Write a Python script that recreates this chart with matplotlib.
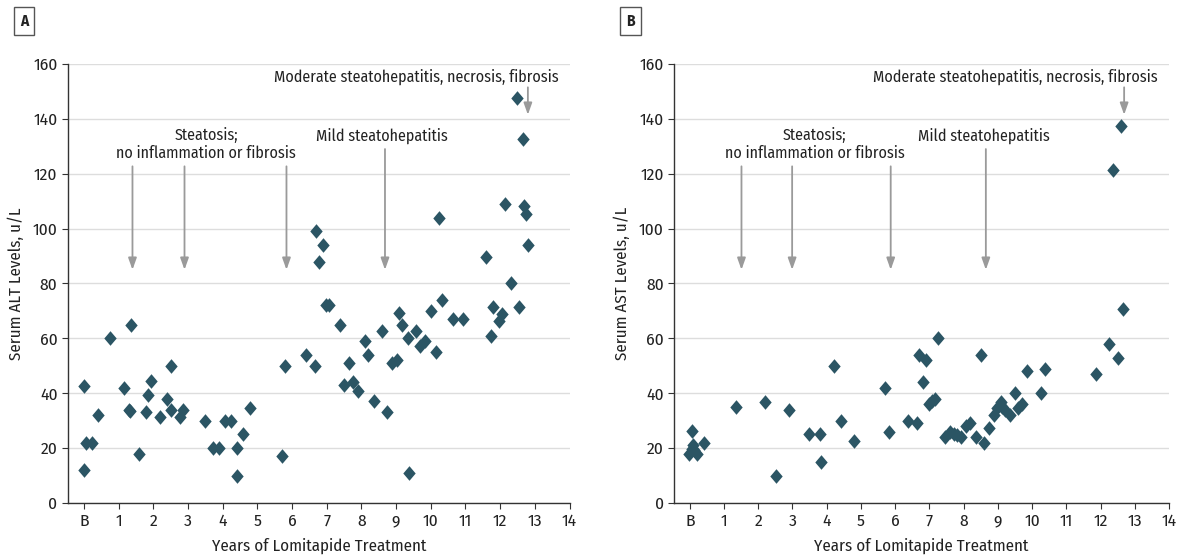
import matplotlib.pyplot as plt
from matplotlib import font_manager

# condensed sans, first one installed
names = {f.name for f in font_manager.fontManager.ttflist}
wanted = ['Fira Sans Condensed', 'Roboto Condensed', 'PT Sans Narrow', 'Archivo Narrow',
          'Asap Condensed', 'Barlow Condensed', 'DejaVu Sans']
fam = [n for n in wanted if n in names][0]
plt.rcParams['font.family'] = [fam, 'DejaVu Sans']

# Panel A: serum ALT
alt_years = [0.0, 0.0, 0.05, 0.24, 0.41, 0.75, 1.17, 1.35, 1.31, 1.34, 1.58, 1.78, 1.84, 1.93,
             2.18, 2.4, 2.5, 2.52, 2.78, 2.87, 3.5, 3.72, 3.9, 4.07, 4.23, 4.41, 4.41, 4.58,
             4.8, 5.72, 5.79, 6.4, 6.67, 6.68, 6.78, 6.9, 6.97, 7.08, 7.38, 7.51, 7.64, 7.76,
             7.9, 8.1, 8.18, 8.36, 8.58, 8.73, 8.89, 9.04, 9.07, 9.18, 9.33, 9.36, 9.57, 9.7,
             9.83, 10.0, 10.14, 10.23, 10.32, 10.64, 10.94, 11.58, 11.74, 11.8, 11.96, 12.05,
             12.13, 12.3, 12.49, 12.55, 12.65, 12.68, 12.76, 12.8]
alt_vals = [42.7, 12, 21.8, 22, 32, 60, 42, 65, 34, 33.5, 18, 33, 39.3, 44.6,
            31.3, 38, 50, 34, 31.3, 34, 29.8, 20, 20, 29.8, 29.8, 20, 10, 25.2,
            34.7, 17, 50, 54, 50, 99.3, 87.8, 94.1, 72, 72, 65, 43, 51, 44,
            40.8, 59, 54, 37, 62.8, 33, 51, 52, 69.2, 65, 60, 11, 62.8, 57.2,
            59, 70, 55, 103.7, 74, 67.2, 67.2, 89.6, 60.8, 71.3, 66.3, 68.7,
            109, 80, 147.6, 71.3, 132.7, 108.4, 105.4, 93.9]

# Panel B: serum AST
ast_years = [-0.03, 0.05, 0.09, 0.06, 0.13, 0.21, 0.42, 1.34, 2.21, 2.52, 2.9, 3.47, 3.79,
             3.84, 4.21, 4.42, 4.81, 5.69, 5.82, 6.38, 6.65, 6.71, 6.82, 6.91, 7.0, 7.08,
             7.15, 7.25, 7.47, 7.6, 7.73, 7.8, 7.91, 8.08, 8.2, 8.35, 8.51, 8.6, 8.73,
             8.88, 8.99, 9.09, 9.12, 9.21, 9.36, 9.51, 9.59, 9.72, 9.85, 10.25, 10.38,
             11.88, 12.26, 12.36, 12.5, 12.61, 12.65]
ast_vals = [17.8, 26.1, 21.2, 19.8, 19.2, 17.8, 21.7, 35, 36.7, 10, 34, 25, 25,
            15, 50, 29.8, 22.7, 42, 26, 30, 29, 54, 44, 52, 35.9, 37.1,
            38, 60, 24, 26, 25, 24.6, 24, 28, 29, 24, 54, 21.7, 27.5,
            31.9, 34.8, 36.7, 35, 33.8, 31.9, 40, 34.8, 36, 48, 40, 49,
            47, 58, 121.5, 53, 137.5, 70.8]

# arrows: (x, top, bottom) per panel
alt_arrows = [(1.40, 122.7, 85), (2.90, 122.7, 85), (5.84, 122.7, 85), (8.68, 129, 85), (12.8, 151.5, 141.5)]
ast_arrows = [(1.51, 122.7, 85), (2.99, 122.7, 85), (5.87, 122.7, 85), (8.65, 129, 85), (12.69, 151.5, 141.5)]
alt_notes = [(3.53, 130.7, "Steatosis;\nno inflammation or fibrosis"), (8.6, 133.9, "Mild steatohepatitis"),
             (9.59, 155.4, "Moderate steatohepatitis, necrosis, fibrosis")]
ast_notes = [(3.65, 130.7, "Steatosis;\nno inflammation or fibrosis"), (8.6, 133.9, "Mild steatohepatitis"),
             (9.5, 155.4, "Moderate steatohepatitis, necrosis, fibrosis")]

xticklabels = ['B'] + [str(i) for i in range(1, 15)]
diamond = [(0, 1), (0.85, 0), (0, -1), (-0.85, 0), (0, 1)]
dot_color = '#2b5564'
arrow_color = '#9a9a9a'
fs = 11.5

fig = plt.figure(figsize=(11.84, 5.55), dpi=100)
ax_a = fig.add_axes([0.0574, 0.0937, 0.4236, 0.791])
ax_b = fig.add_axes([0.5693, 0.0937, 0.4180, 0.791])

panels = [(ax_a, alt_years, alt_vals, alt_arrows, alt_notes, "Serum ALT Levels, u/L", "A", 0.0105),
          (ax_b, ast_years, ast_vals, ast_arrows, ast_notes, "Serum AST Levels, u/L", "B", 0.5225)]

for ax, xs, ys, arrows, notes, ylabel, tag, tagx in panels:
    ax.set_xlim(-0.46, 14)
    ax.set_ylim(0, 160)
    ax.set_yticks(range(0, 161, 20))
    ax.set_xticks(range(0, 15))
    ax.set_xticklabels(xticklabels)
    ax.grid(axis='y', color='#dddddd', lw=1.0)
    ax.set_axisbelow(True)
    for s in ['top', 'right']:
        ax.spines[s].set_visible(False)
    for s in ['left', 'bottom']:
        ax.spines[s].set_color('#333333')
        ax.spines[s].set_linewidth(1.0)
    ax.tick_params(labelsize=12.5, length=4.5, color='#333333', labelcolor='#222222', pad=3)
    ax.set_ylabel(ylabel, fontsize=12.2, color='#222222', labelpad=6)
    ax.set_xlabel("Years of Lomitapide Treatment", fontsize=12.2, color='#222222', labelpad=6)

    for x, top, bot in arrows:
        ax.annotate("", xy=(x, bot), xytext=(x, top),
                    arrowprops=dict(arrowstyle='-|>,head_width=0.25,head_length=0.7',
                                    color=arrow_color, lw=1.3, shrinkA=0, shrinkB=0))
    for x, y, txt in notes:
        ax.text(x, y, txt, ha='center', va='center', fontsize=fs, color='#222222',
                linespacing=1.2)

    ax.plot(xs, ys, linestyle='none', marker=diamond, markersize=10.5,
            color=dot_color, markeredgewidth=0, clip_on=False, zorder=3)

    fig.text(tagx + 0.0098, 0.962, tag, ha='center', va='center', fontsize=11,
             fontweight='bold', color='#222222',
             bbox=dict(boxstyle='square,pad=0.4', fc='white', ec='#555555', lw=1.0))

fig.savefig('out.png', dpi=100)
